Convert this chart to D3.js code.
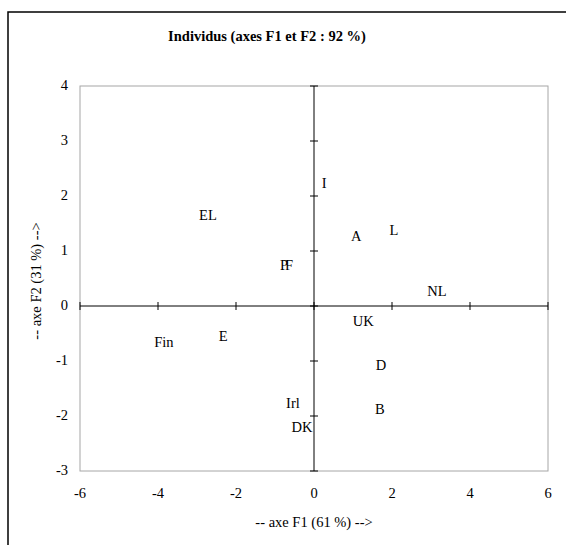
<!DOCTYPE html>
<html>
<head>
<meta charset="utf-8">
<script src="https://cdn.jsdelivr.net/npm/d3@7"></script>
<style>
  body { margin: 0; background: #fff; }
  svg text { font-family: "Liberation Serif", "Times New Roman", "DejaVu Serif", serif; fill: #000; }
</style>
</head>
<body>
<div id="vis"></div>
<script>
// donnees
const labels = ["EL", "Fin", "E", "I", "A", "L", "P", "F", "NL", "UK", "D", "B", "Irl", "DK"];
const f1 = [-2.72, -3.85, -2.33, 0.26, 1.08, 2.05, -0.77, -0.64, 3.15, 1.26, 1.72, 1.69, -0.54, -0.31];
const f2 = [1.65, -0.65, -0.55, 2.24, 1.27, 1.38, 0.75, 0.75, 0.27, -0.27, -1.07, -1.87, -1.76, -2.2];

const xTicks = [-6, -4, -2, 0, 2, 4, 6];
const yTicks = [-3, -2, -1, 0, 1, 2, 3, 4];

const W = 566, H = 545;
const MARGIN = { top: 86, bottom: 74, left: 80, right: 18 };
const FONT = "'Liberation Serif', 'Times New Roman', serif";
const FS = 14.5;

const svg = d3.select("#vis").append("svg").attr("width", W).attr("height", H)
  .attr("font-family", FONT);

// cadre exterieur (coupe a droite et en bas)
svg.append("rect").attr("x", 8).attr("y", 12).attr("width", 600).attr("height", 600)
  .attr("fill", "none").attr("stroke", "#000").attr("stroke-width", 1.5);

const x = d3.scaleLinear().domain([-6, 6]).range([MARGIN.left, W - MARGIN.right]);
const y = d3.scaleLinear().domain([-3, 4]).range([H - MARGIN.bottom, MARGIN.top]);

// zone de tracé
svg.append("rect")
  .attr("x", x(-6)).attr("y", y(4))
  .attr("width", x(6) - x(-6)).attr("height", y(-3) - y(4))
  .attr("fill", "none").attr("stroke", "#a6a6a6").attr("stroke-width", 1);

// axes passant par 0
const axeX = svg.append("g").attr("transform", `translate(0,${y(0)})`);
axeX.append("line").attr("x1", x(-6)).attr("x2", x(6)).attr("stroke", "#000");
axeX.selectAll("line.t").data(xTicks).join("line").attr("class", "t")
  .attr("x1", d => x(d)).attr("x2", d => x(d)).attr("y1", -4).attr("y2", 4)
  .attr("stroke", "#000");

const axeY = svg.append("g").attr("transform", `translate(${x(0)},0)`);
axeY.append("line").attr("y1", y(-3)).attr("y2", y(4)).attr("stroke", "#000");
axeY.selectAll("line.t").data(yTicks).join("line").attr("class", "t")
  .attr("y1", d => y(d)).attr("y2", d => y(d)).attr("x1", -4).attr("x2", 4)
  .attr("stroke", "#000");

// etiquettes des graduations
svg.append("g").selectAll("text").data(xTicks).join("text")
  .attr("x", d => x(d)).attr("y", y(-3) + 27)
  .attr("text-anchor", "middle").attr("font-size", FS)
  .text(d => d);

svg.append("g").selectAll("text").data(yTicks).join("text")
  .attr("x", x(-6) - 12).attr("y", d => y(d) + 4)
  .attr("text-anchor", "end").attr("font-size", FS)
  .text(d => d);

// individus
svg.append("g").selectAll("text").data(labels).join("text")
  .attr("x", (d, i) => x(f1[i])).attr("y", (d, i) => y(f2[i]) + 5)
  .attr("text-anchor", "middle").attr("font-size", FS)
  .text(d => d);

// titres
svg.append("text").attr("x", 267).attr("y", 41)
  .attr("text-anchor", "middle").attr("font-size", FS).attr("font-weight", "bold")
  .text("Individus (axes F1 et F2 : 92 %)");

svg.append("text").attr("x", 314).attr("y", 527)
  .attr("text-anchor", "middle").attr("font-size", FS)
  .text("-- axe F1 (61 %) -->");

svg.append("text")
  .attr("transform", "translate(41,281) rotate(-90)")
  .attr("text-anchor", "middle").attr("font-size", FS)
  .text("-- axe F2 (31 %) -->");
</script>
</body>
</html>
